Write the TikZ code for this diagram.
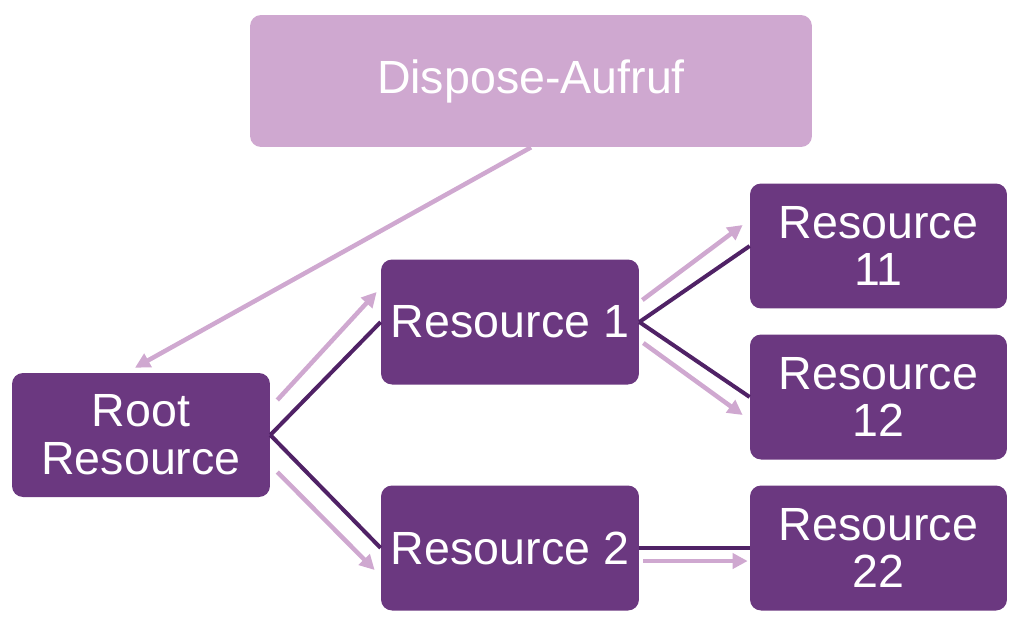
\documentclass[tikz,border=0pt]{standalone}
\usepackage{fontspec}
\setmainfont{Liberation Sans}
\usetikzlibrary{arrows.meta}
\definecolor{boxpurple}{RGB}{107,56,128}
\definecolor{linepurple}{RGB}{80,34,102}
\definecolor{lightpurple}{RGB}{207,168,208}

\begin{document}
\begin{tikzpicture}[x=0.02cm, y=-0.02cm,
  box/.style={fill=boxpurple, rounded corners=0.22cm, minimum width=5.16cm, minimum height=2.5cm, text=white, align=center, inner sep=0pt, font=\fontsize{26.5}{27.2}\selectfont},
  link/.style={draw=linepurple, line width=0.08cm},
  flow/.style={draw=lightpurple, line width=0.09cm, -{Triangle[length=0.3cm, width=0.3cm]}}]
\useasboundingbox (0,0) rectangle (1027,630);
\node[box, fill=lightpurple, minimum width=11.24cm, minimum height=2.64cm] (Dispose) at (531,81) {Dispose-Aufruf};
\node[box, minimum height=2.48cm] (Root) at (141,435) {Root\\Resource};
\node[box] (Res1) at (510,322) {Resource 1};
\node[box] (Res2) at (510,548) {Resource 2};
\node[box, minimum width=5.14cm] (Res11) at (878.5,246) {Resource\\11};
\node[box, minimum width=5.14cm] (Res12) at (878.5,397) {Resource\\12};
\node[box, minimum width=5.14cm] (Res22) at (878.5,548) {Resource\\22};
\draw[link] (Root.east) -- (Res1.west);
\draw[link] (Root.east) -- (Res2.west);
\draw[link] (Res1.east) -- (Res11.west);
\draw[link] (Res1.east) -- (Res12.west);
\draw[link] (Res2.east) -- (Res22.west);
\draw[flow] (Dispose.south) -- ([shift={(-6,-5)}]Root.north);
\draw[flow] ([shift={(7,-35)}]Root.east) -- ([shift={(-4,-30)}]Res1.west);
\draw[flow] ([shift={(7,37)}]Root.east) -- ([shift={(-6,22)}]Res2.west);
\draw[flow] ([shift={(3,-22)}]Res1.east) -- ([shift={(-7,-21)}]Res11.west);
\draw[flow] ([shift={(4,21)}]Res1.east) -- ([shift={(-7,18)}]Res12.west);
\draw[flow] ([shift={(4,13)}]Res2.east) -- ([shift={(-2,13)}]Res22.west);
\end{tikzpicture}
\end{document}
